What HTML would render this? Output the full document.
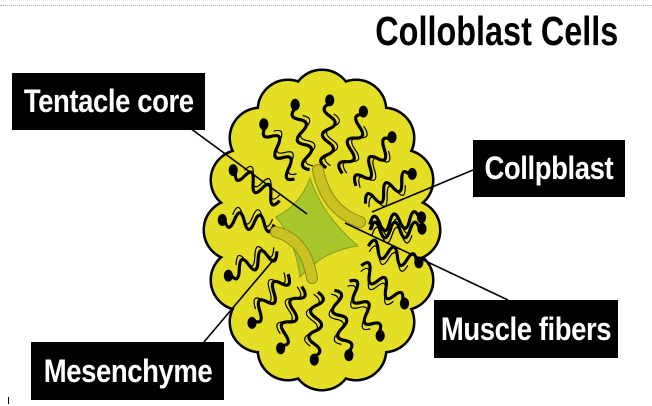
<!DOCTYPE html>
<html><head><meta charset="utf-8"><style>
html,body{margin:0;padding:0;background:#fff;}
body{width:652px;height:406px;position:relative;overflow:hidden;font-family:"Liberation Sans",sans-serif;}
.box{position:absolute;background:#000;color:#fff;font-weight:bold;display:flex;align-items:center;justify-content:center;white-space:nowrap;}
.box span{display:inline-block;transform:scaleX(0.86);font-size:32px;letter-spacing:-0.5px;margin:0 -30px;}
</style></head><body>
<div style="position:absolute;left:0;top:5px;width:652px;border-top:1px dotted #aaa;"></div>
<div style="position:absolute;left:8px;top:397px;width:1px;height:7px;background:#000"></div>
<div style="position:absolute;left:372px;top:8px;width:250px;height:48px;text-align:center;white-space:nowrap;"><span style="display:inline-block;font-weight:bold;font-size:41px;transform:scaleX(0.79);transform-origin:center;margin-left:-60px;margin-right:-60px;">Colloblast Cells</span></div>

<svg width="652" height="406" style="position:absolute;left:0;top:0">
<defs>
<g id="lobes">
<circle cx="410" cy="230" r="29"/><circle cx="403" cy="280" r="29"/><circle cx="384" cy="322" r="29"/><circle cx="356" cy="350" r="29"/><circle cx="322" cy="360" r="29"/><circle cx="288" cy="350" r="29"/><circle cx="260" cy="322" r="29"/><circle cx="241" cy="280" r="29"/><circle cx="234" cy="230" r="29"/><circle cx="241" cy="180" r="29"/><circle cx="260" cy="138" r="29"/><circle cx="288" cy="110" r="29"/><circle cx="322" cy="100" r="29"/><circle cx="356" cy="110" r="29"/><circle cx="384" cy="138" r="29"/><circle cx="403" cy="180" r="29"/>
</g>
</defs>
<use href="#lobes" fill="#000" stroke="#000" stroke-width="5"/>
<use href="#lobes" fill="#e4de24"/>
<ellipse cx="322" cy="230" rx="95" ry="137" fill="#e4de24"/>
<g transform="translate(322,230) scale(1,1.3)" fill="none" stroke="#000" stroke-width="3.2">
<g id="sq"><path vector-effect="non-scaling-stroke" d="M48 0 q5 -12 10 0 t10 0 t10 0 t10 0 t10 0"/><path vector-effect="non-scaling-stroke" stroke-width="1.2" d="M50 4 q5 -12 10 0 t10 0 t10 0 t10 0"/><circle cx="100" cy="-1" r="3" fill="#000"/></g>
<use href="#sq" transform="rotate(-125)"/>
<use href="#sq" transform="rotate(-105)"/>
<use href="#sq" transform="rotate(-85)"/>
<use href="#sq" transform="rotate(-65)"/>
<use href="#sq" transform="rotate(-45)"/>
<use href="#sq" transform="rotate(-25)"/>
<use href="#sq" transform="rotate(-5)"/>
<use href="#sq" transform="rotate(15)"/>
<use href="#sq" transform="rotate(35)"/>
<use href="#sq" transform="rotate(55)"/>
<use href="#sq" transform="rotate(75)"/>
<use href="#sq" transform="rotate(95)"/>
<use href="#sq" transform="rotate(115)"/>
<use href="#sq" transform="rotate(135)"/>
<use href="#sq" transform="rotate(160)"/>
<use href="#sq" transform="rotate(185)"/>
<use href="#sq" transform="rotate(208)"/>
</g>
<path d="M276 217 Q300 205 310 178 Q322 215 358 246 Q325 250 300 277 Q295 240 276 217 Z" fill="#a6c62c" stroke="#8a9a20" stroke-width="1"/>
<path d="M318 170 Q326 210 360 222" fill="none" stroke="#8a8a18" stroke-width="12" stroke-linecap="round"/>
<path d="M318 170 Q326 210 360 222" fill="none" stroke="#c9c222" stroke-width="10" stroke-linecap="round"/>
<path d="M276 232 Q306 240 312 278" fill="none" stroke="#8a8a18" stroke-width="12" stroke-linecap="round"/>
<path d="M276 232 Q306 240 312 278" fill="none" stroke="#c9c222" stroke-width="10" stroke-linecap="round"/>
<g stroke="#000" stroke-width="1.6">
<line x1="190" y1="128" x2="307" y2="214"/>
<line x1="345" y1="223" x2="508" y2="300"/>
<line x1="473" y1="170" x2="372" y2="212"/>
<line x1="204" y1="342" x2="275" y2="258"/>
</g>
</svg>

<div class="box" style="left:12px;top:73px;width:193px;height:57px;"><span>Tentacle core</span></div>
<div class="box" style="left:473px;top:140px;width:152px;height:57px;"><span>Collpblast</span></div>
<div class="box" style="left:434px;top:300px;width:184px;height:58px;"><span>Muscle fibers</span></div>
<div class="box" style="left:31px;top:342px;width:193px;height:58px;"><span>Mesenchyme</span></div>
</body></html>
